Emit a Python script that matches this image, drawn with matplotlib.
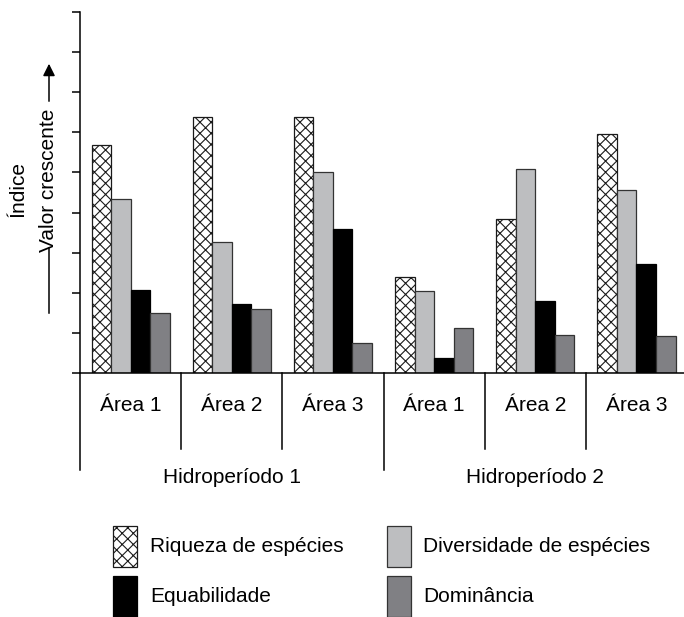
import matplotlib
matplotlib.use("Agg")
import matplotlib.pyplot as plt
import numpy as np
from matplotlib.patches import Rectangle
from matplotlib.lines import Line2D

plt.rcParams['font.family'] = ['Liberation Sans', 'DejaVu Sans']
plt.rcParams['hatch.linewidth'] = 0.8

# ---- data ----
areas = ["Área 1", "Área 2", "Área 3", "Área 1", "Área 2", "Área 3"]
periods = ["Hidroperíodo 1", "Hidroperíodo 2"]
series_names = ["Riqueza de espécies", "Diversidade de espécies", "Equabilidade", "Dominância"]
riqueza = [5.69, 6.39, 6.38, 2.40, 3.83, 5.96]
diversidade = [4.34, 3.27, 5.02, 2.05, 5.09, 4.56]
equabilidade = [2.07, 1.72, 3.59, 0.37, 1.80, 2.72]
dominancia = [1.50, 1.60, 0.75, 1.12, 0.94, 0.91]

W, H = 684, 617
fig = plt.figure(figsize=(W / 100, H / 100), dpi=100)

def fx(x):
    return x / W

def fy(y):
    return 1 - y / H

# axes: left spine at x=80px, baseline at y=373px, top at y=12px
ax = fig.add_axes([fx(80), fy(373), fx(684) - fx(80), (373 - 12) / H])
ax.set_xlim(-0.5, 5.47)
ax.set_ylim(0, 9)

styles = [
    dict(facecolor="white", hatch="xxx", edgecolor="#1a1a1a"),
    dict(facecolor="#bdbec0", edgecolor="#333333"),
    dict(facecolor="#000000", edgecolor="#000000"),
    dict(facecolor="#808084", edgecolor="#333333"),
]
series = [riqueza, diversidade, equabilidade, dominancia]
x = np.arange(len(areas))
bw = 0.193
for k, (vals, st) in enumerate(zip(series, styles)):
    ax.bar(x + (k - 1.5) * bw, vals, width=bw, linewidth=0.9, zorder=2, **st)

for s in ["top", "right"]:
    ax.spines[s].set_visible(False)
ax.spines["left"].set_linewidth(1.1)
ax.spines["bottom"].set_linewidth(1.1)
ax.set_yticks(np.arange(0, 10))
ax.set_yticklabels([])
ax.tick_params(axis="y", direction="out", length=6, width=1.1)
ax.set_xticks([])

# lower category lines
ext_low = -(470 - 373) / 40.1
ext_mid = -(449 - 373) / 40.1
ax.plot([-0.5, -0.5], [0, ext_low], color="black", lw=1.1, clip_on=False)
for xs in [0.5, 1.5, 3.5, 4.5]:
    ax.plot([xs, xs], [0, ext_mid], color="black", lw=1.1, clip_on=False)
ax.plot([2.5, 2.5], [0, ext_low], color="black", lw=1.1, clip_on=False)

fs = 15
for i, a in enumerate(areas):
    ax.text(i, -(410.7 - 373) / 40.1, a, ha="center", va="baseline", fontsize=fs, clip_on=False)
for j, p in enumerate(periods):
    ax.text(1 + 3 * j, -(483 - 373) / 40.1, p, ha="center", va="baseline", fontsize=fs, clip_on=False)

# y label
fig.text(fx(18), fy(189), "Índice", rotation=90, ha="center", va="center", fontsize=fs)
fig.text(fx(49), fy(180), "Valor crescente", rotation=90, ha="center", va="center", fontsize=fs)
fig.add_artist(Line2D([fx(49), fx(49)], [fy(248), fy(313)], color="black", lw=1.1))
ax.annotate("", xy=(fx(49), fy(61)), xytext=(fx(49), fy(104)), xycoords="figure fraction",
            textcoords="figure fraction",
            arrowprops=dict(arrowstyle="-|>", color="black", lw=1.1, mutation_scale=18))

# legend
leg_pos = [(112.7, 526, 150), (386.7, 526, 423), (112.7, 576, 150), (386.7, 576, 423)]
leg_order = [0, 1, 2, 3]
base = {526: 552, 576: 602}
for k, (px, py, tx) in zip(leg_order, leg_pos):
    st = styles[k]
    r = Rectangle((fx(px), fy(py + 40.5)), fx(24), 40.5 / H, transform=fig.transFigure,
                  linewidth=0.9, **st)
    fig.add_artist(r)
    fig.text(fx(tx), fy(base[py]), series_names[k], ha="left", va="baseline", fontsize=fs)

fig.savefig("out.png", dpi=100)
